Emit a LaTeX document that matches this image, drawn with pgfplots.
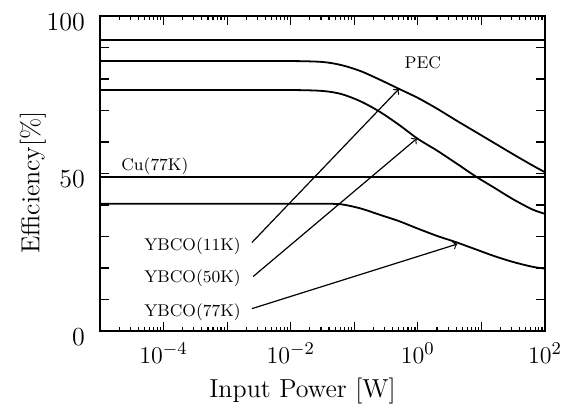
\documentclass[border=0pt]{standalone}
\usepackage{pgfplots}
\pgfplotsset{compat=1.18}
\begin{document}
\begin{tikzpicture}
\useasboundingbox (-50pt,-37pt) rectangle (236pt,165.5pt);
\begin{axis}[
  at={(0,0)}, anchor=south west,
  scale only axis, width=222.5pt, height=157.5pt,
  xmode=log, xmin=1e-5, xmax=100, ymin=0, ymax=100,
  xtick={1e-5,1e-4,1e-3,1e-2,1e-1,1,10,100},
  xticklabels={,$10^{-4}$,,$10^{-2}$,,$10^{0}$,,$10^{2}$},
  minor xtick={2e-5,3e-5,4e-5,5e-5,6e-5,7e-5,8e-5,9e-5,
    2e-4,3e-4,4e-4,5e-4,6e-4,7e-4,8e-4,9e-4,
    2e-3,3e-3,4e-3,5e-3,6e-3,7e-3,8e-3,9e-3,
    0.02,0.03,0.04,0.05,0.06,0.07,0.08,0.09,
    0.2,0.3,0.4,0.5,0.6,0.7,0.8,0.9,
    2,3,4,5,6,7,8,9,
    20,30,40,50,60,70,80,90},
  ytick={0,10,...,100},
  yticklabels={0,,,,,50,,,,,100},
  tick label style={font=\fontsize{13}{15}\selectfont},
  yticklabel style={yshift=-3pt, xshift=-4pt},
  xticklabel style={yshift=-2.5pt},
  label style={font=\fontsize{13}{15}\selectfont},
  xlabel={Input Power [W]},
  ylabel={Efficiency[\%]},
  xlabel style={at={(axis description cs:0.455,-0.19)},anchor=center},
  ylabel style={at={(axis description cs:-0.1506,0.4714)},anchor=center},
  major tick length=4.5pt, minor tick length=2.2pt,
  axis line style={line width=0.9pt},
  every tick/.style={black, line width=0.6pt},
  clip=false,
]
% PEC
\addplot[black, line width=0.9pt] coordinates {(1e-5,92.5)(100,92.5)};
% Cu(77K)
\addplot[black, line width=0.9pt] coordinates {(1e-5,49.0)(100,49.0)};
% YBCO(11K)
\addplot[black, line width=0.9pt, smooth] coordinates {
(1e-5,85.7)(1e-4,85.7)(1e-3,85.7)(0.01,85.7)(0.031623,85.4)(0.063096,84.4)
(0.125893,82.5)(0.251189,79.8)(0.501187,76.9)(1,74.0)(1.995262,70.6)
(3.981072,66.9)(7.943282,63.3)(15.848932,59.7)(31.622777,56.1)(63.095734,52.6)(100,50.4)};
% YBCO(50K)
\addplot[black, line width=0.9pt, smooth] coordinates {
(1e-5,76.5)(1e-4,76.5)(1e-3,76.5)(0.01,76.5)(0.031623,76.2)(0.063096,75.2)
(0.125893,72.9)(0.251189,69.6)(0.501187,65.5)(1,61.0)(1.995262,57.3)
(3.981072,53.3)(7.943282,49.2)(15.848932,45.5)(31.622777,41.8)(63.095734,38.6)(100,37.2)};
% YBCO(77K)
\addplot[black, line width=0.9pt, smooth] coordinates {
(1e-5,40.4)(1e-4,40.4)(1e-3,40.4)(0.01,40.4)(0.031623,40.4)(0.063096,40.2)
(0.125893,38.9)(0.251189,36.9)(0.501187,34.9)(1,32.5)(1.995262,30.2)
(3.981072,28.2)(7.943282,26.0)(15.848932,23.8)(31.622777,21.9)(63.095734,20.4)(100,19.8)};
% annotations
\node[font=\fontsize{8.5}{10}\selectfont] at (axis cs:1.2,85.3) {PEC};
\node[font=\fontsize{8.5}{10}\selectfont] at (axis cs:7.3e-5,52.4) {Cu(77K)};
\node[font=\fontsize{8.5}{10}\selectfont, anchor=east, inner sep=0pt] at (axis cs:0.00166,26.8) {YBCO(11K)};
\node[font=\fontsize{8.5}{10}\selectfont, anchor=east, inner sep=0pt] at (axis cs:0.00166,16.6) {YBCO(50K)};
\node[font=\fontsize{8.5}{10}\selectfont, anchor=east, inner sep=0pt] at (axis cs:0.00166,6.1) {YBCO(77K)};
\draw[->, line width=0.6pt] (axis cs:0.002455,28.1) -- (axis cs:0.5012,76.8);
\draw[->, line width=0.6pt] (axis cs:0.00257,17.3) -- (axis cs:0.9638,61.1);
\draw[->, line width=0.6pt] (axis cs:0.002455,7.1) -- (axis cs:4.169,27.6);
\end{axis}
\end{tikzpicture}
\end{document}
